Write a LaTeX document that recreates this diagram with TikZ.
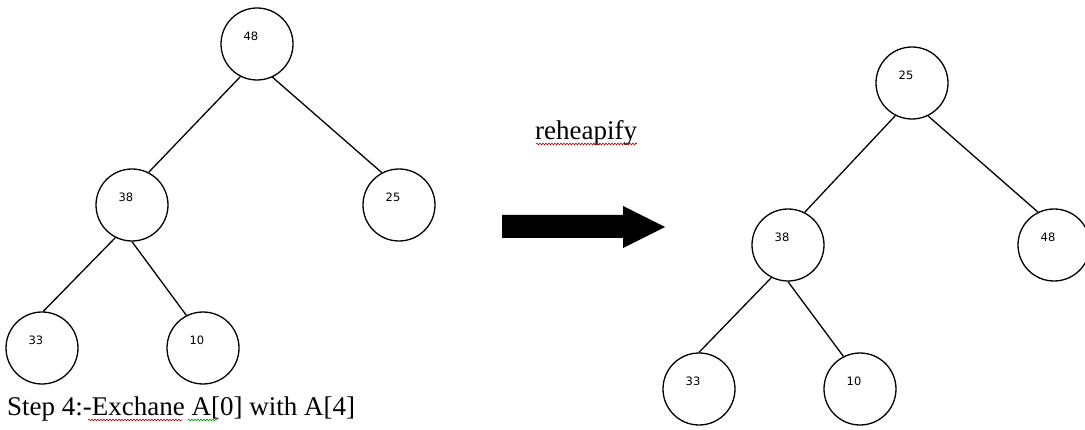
\documentclass[tikz,border=0pt]{standalone}
\usepackage{fontspec}
\setmainfont{Liberation Serif}
\newfontfamily\numfont{DejaVu Sans}
\usetikzlibrary{decorations.pathmorphing}
\tikzset{
  hn/.style={circle,draw,line width=1.3pt,minimum size=72pt,inner sep=0pt,
    label={[xshift=-6pt,yshift=8pt,font=\numfont\fontsize{11.5}{14}\selectfont]center:#1}},
  edge/.style={line width=1.3pt},
  bigtext/.style={font=\fontsize{27}{30}\selectfont,inner sep=0pt},
  spell/.style={line width=0.6pt,decorate,decoration={snake,amplitude=0.9pt,segment length=3pt}}
}
\begin{document}
\begin{tikzpicture}[x=1pt,y=-1pt]
\useasboundingbox (0,0) rectangle (1085,430);
% left tree
\node[hn=48] (a1) at (257,44) {};
\node[hn=38] (a2) at (132,205) {};
\node[hn=25] (a3) at (399,205) {};
\node[hn=33] (a4) at (42,348) {};
\node[hn=10] (a5) at (203,348) {};
\draw[edge] (a1.243) -- (a2.63);
\draw[edge] (a1.295) -- (a3.118);
\draw[edge] (a2.243) -- (a4.88);
\draw[edge] (a2.270) -- (a5.117);
% right tree
\node[hn=25] (b1) at (912,83) {};
\node[hn=38] (b2) at (788,245) {};
\node[hn=48] (b3) at (1054,245) {};
\node[hn=33] (b4) at (699,389) {};
\node[hn=10] (b5) at (860,389) {};
\draw[edge] (b1.243) -- (b2.63);
\draw[edge] (b1.296) -- (b3.116);
\draw[edge] (b2.243) -- (b4.90);
\draw[edge] (b2.270) -- (b5.117);
% texts
\node[bigtext,anchor=base west] (step) at (7,415) {Step 4:-Exchane A[0] with A[4]};
\node[bigtext,anchor=base west] (rh) at (535,140) {reheapify};
\draw[spell,red!70!black] (88,420) -- (182,420);
\draw[spell,green!55!black] (188,420) -- (217,420);
\draw[spell,red!70!black] (536,144) -- (637,144);
% big arrow
\fill (502,215) -- (623,215) -- (623,206) -- (665,227) -- (623,248) -- (623,238) -- (502,238) -- cycle;
\end{tikzpicture}
\end{document}
